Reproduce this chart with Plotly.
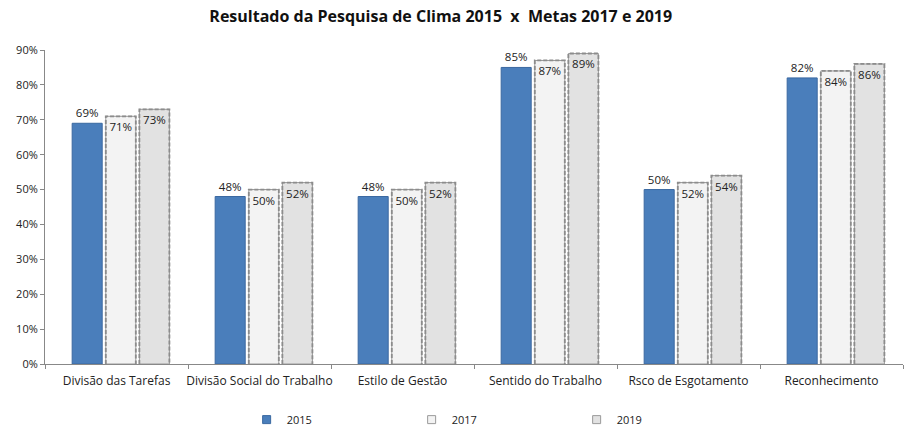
import plotly.graph_objects as go

categories = ["Divisão das Tarefas", "Divisão Social do Trabalho", "Estilo de Gestão",
              "Sentido do Trabalho", "Rsco de Esgotamento", "Reconhecimento"]
series_names = ["2015", "2017", "2019"]
v2015 = [69, 48, 48, 85, 50, 82]
v2017 = [71, 50, 50, 87, 52, 84]
v2019 = [73, 52, 52, 89, 54, 86]
y_ticks = [0, 10, 20, 30, 40, 50, 60, 70, 80, 90]

FONT = "'Open Sans', sans-serif"
offsets = [-0.235, 0.0, 0.235]
bw = 0.21
fills = ["#4a7ebb", "#f3f3f3", "#e2e2e2"]
edges = ["#3a68a0", "#9a9a9a", "#9a9a9a"]
values = [v2015, v2017, v2019]

fig = go.Figure()
for k, (name, vals, fill) in enumerate(zip(series_names, values, fills)):
    xs = [i + offsets[k] + 0.03 for i in range(len(categories))]
    texts = [f"{v}%" for v in vals]
    fig.add_trace(go.Bar(
        x=xs, y=[v / 100 for v in vals], width=bw, name=name, showlegend=False,
        marker=dict(color=fill, line=dict(color=edges[k], width=1)),
        text=texts,
        textposition="outside" if k == 0 else "inside",
        insidetextanchor="end",
        textangle=0,
        cliponaxis=False,
        textfont=dict(family=FONT, size=11.5, color="#222222"),
        hoverinfo="skip",
    ))
    if k > 0:
        ox, oy = [], []
        for x, v in zip(xs, vals):
            ox += [x - bw / 2, x - bw / 2, x + bw / 2, x + bw / 2, None]
            oy += [0, v / 100, v / 100, 0, None]
        fig.add_trace(go.Scatter(
            x=ox, y=oy, mode="lines", showlegend=False, hoverinfo="skip",
            line=dict(color="#8c8c8c", width=1.8, dash="4px,2px"),
        ))
    # legend entry with a small square symbol
    fig.add_trace(go.Scatter(
        x=[None], y=[None], mode="markers", name=name, showlegend=True,
        marker=dict(symbol="square", size=8, color=fill, line=dict(color=edges[k], width=1)),
    ))

fig.update_layout(
    width=905, height=426,
    paper_bgcolor="white", plot_bgcolor="white",
    margin=dict(l=45, r=2, t=50, b=62),
    title=dict(text="<b>Resultado da Pesquisa de Clima 2015  x  Metas 2017 e 2019</b>",
               x=0.487, xanchor="center", y=0.975, yanchor="top",
               font=dict(family=FONT, size=16, color="#111111")),
    showlegend=True,
    legend=dict(orientation="h", x=0.235, xanchor="left",
                yref="container", y=0.015, yanchor="middle",
                entrywidth=120, entrywidthmode="pixels",
                font=dict(family=FONT, size=11, color="#222222"),
                itemclick=False),
    xaxis=dict(
        range=[-0.5, len(categories) - 0.5],
        tickmode="array", tickvals=list(range(len(categories))), ticktext=categories,
        showgrid=False, zeroline=False, showline=True, linecolor="#888888", linewidth=1,
        ticks="", ticklabelstandoff=6,
        minor=dict(tick0=-0.5, dtick=1, ticks="outside", ticklen=4, tickcolor="#888888", showgrid=False),
        tickfont=dict(family=FONT, size=12, color="#222222"),
    ),
    yaxis=dict(
        range=[0, 0.9], tickmode="array", tickvals=[t / 100 for t in y_ticks],
        ticktext=[f"{t}%" for t in y_ticks],
        showgrid=False, zeroline=False, showline=True, linecolor="#888888", linewidth=1,
        ticks="outside", ticklen=4, tickcolor="#888888",
        tickfont=dict(family=FONT, size=11, color="#222222"),
    ),
)

fig.write_html("out.html", config={"displayModeBar": False},
               post_script="document.body.style.margin='0';")
